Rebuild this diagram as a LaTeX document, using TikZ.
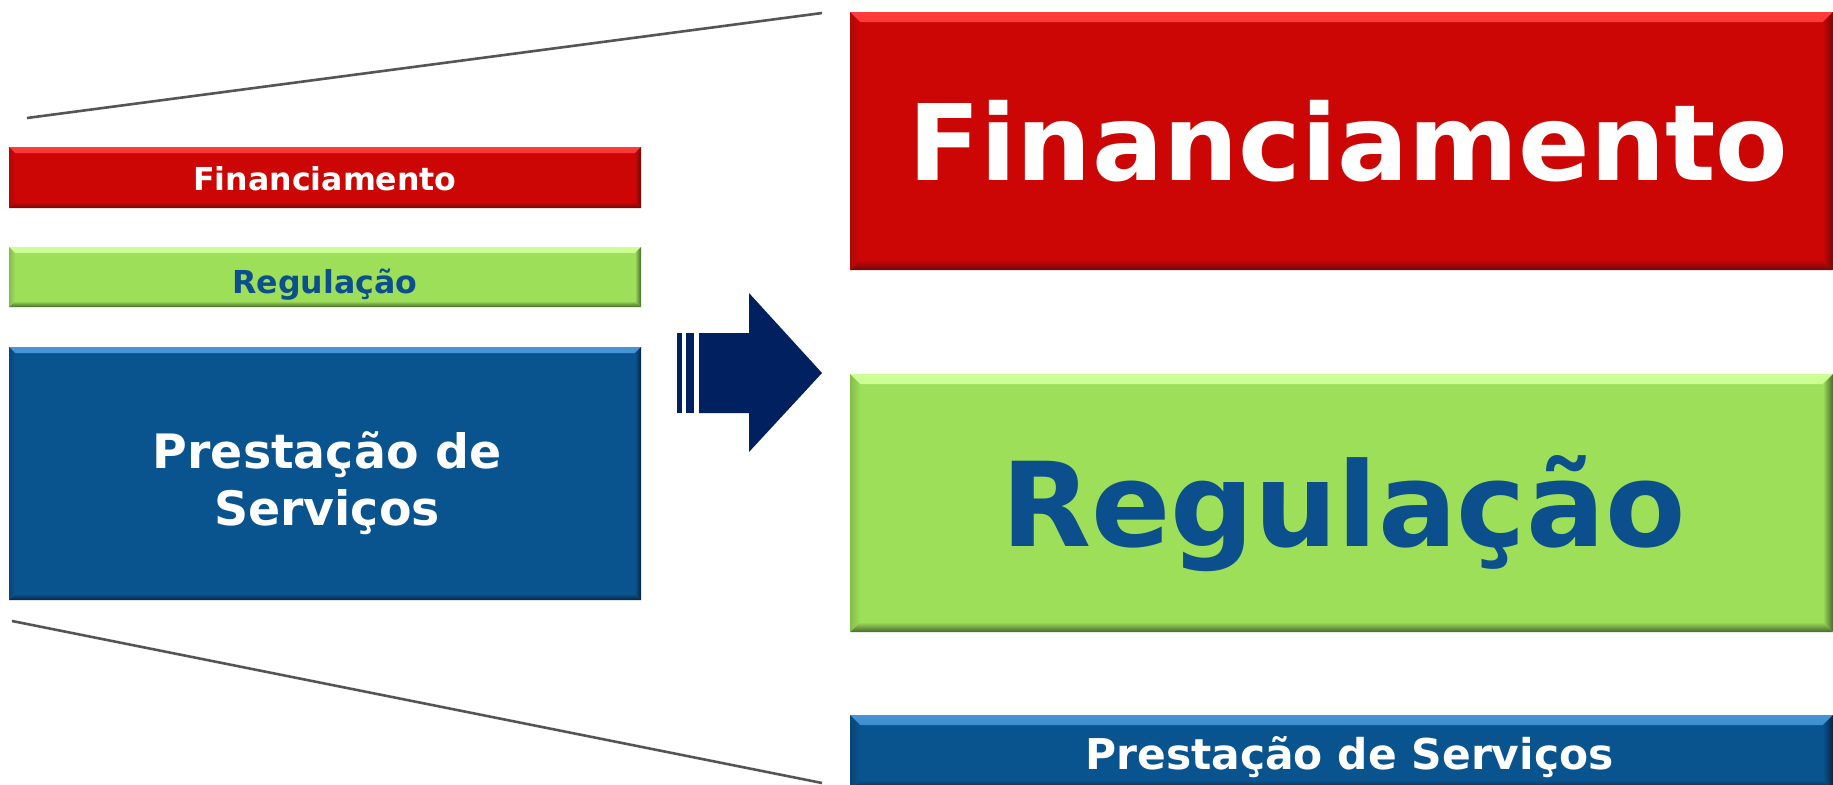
\documentclass[tikz,border=0pt]{standalone}
\usepackage{fontspec}
\setmainfont{DejaVu Sans}
\usetikzlibrary{calc}
\definecolor{redbase}{RGB}{204,6,5}
\definecolor{redlight}{RGB}{255,60,60}
\definecolor{reddark}{RGB}{110,10,10}
\definecolor{grnbase}{RGB}{158,223,90}
\definecolor{grnlight}{RGB}{205,255,150}
\definecolor{grndark}{RGB}{70,105,45}
\definecolor{blubase}{RGB}{9,84,143}
\definecolor{blulight}{RGB}{70,150,215}
\definecolor{bludark}{RGB}{10,35,60}
\definecolor{txtblue}{RGB}{11,79,140}
\definecolor{navy}{RGB}{0,32,96}
\definecolor{linegray}{RGB}{85,85,85}
\newlength{\bw}
\tikzset{
  bevelbox/.style n args={4}{
    fill=#1, inner sep=0pt,
    path picture={
      \setlength{\bw}{#4}
      \def\pb{path picture bounding box}
      \shade[top color=#2, bottom color=#1]
        (\pb.north west) -- (\pb.north east) -- ([xshift=-\bw,yshift=-\bw]\pb.north east) -- ([xshift=\bw,yshift=-\bw]\pb.north west) -- cycle;
      \shade[top color=#1, bottom color=#3]
        (\pb.south west) -- (\pb.south east) -- ([xshift=-\bw,yshift=\bw]\pb.south east) -- ([xshift=\bw,yshift=\bw]\pb.south west) -- cycle;
      \shade[left color=#1, right color=#3]
        (\pb.north east) -- (\pb.south east) -- ([xshift=-\bw,yshift=\bw]\pb.south east) -- ([xshift=-\bw,yshift=-\bw]\pb.north east) -- cycle;
      \shade[left color=#1!70!#3, right color=#1]
        (\pb.north west) -- (\pb.south west) -- ([xshift=\bw,yshift=\bw]\pb.south west) -- ([xshift=\bw,yshift=-\bw]\pb.north west) -- cycle;
    }},
  boxtext/.style={inner sep=0pt, align=center},
  zoomline/.style={draw=linegray, line width=1.3pt},
  arrowfill/.style={fill=navy, draw=none}
}
\begin{document}
\begin{tikzpicture}[x=0.5pt,y=-0.5pt]
\useasboundingbox (0,0) rectangle (1833,784);
\clip (0,0) rectangle (1833,784);
\fill[white] (0,0) rectangle (1833,784);
% small boxes
\node[bevelbox={redbase}{redlight}{reddark}{3pt}, minimum width=316pt, minimum height=30.5pt] (sf) at (325,177.5) {};
\node[boxtext, text=white, font=\bfseries\fontsize{15.8}{18}\selectfont] (sft) at ([yshift=-0.5pt]sf.center) {Financiamento};
\node[bevelbox={grnbase}{grnlight}{grndark}{3pt}, minimum width=316pt, minimum height=30pt] (sr) at (325,277) {};
\node[boxtext, text=txtblue, font=\bfseries\fontsize{15.8}{18}\selectfont] (srt) at ([yshift=-4pt]sr.center) {Regulação};
\node[bevelbox={blubase}{blulight}{bludark}{3pt}, minimum width=316pt, minimum height=126.5pt] (sp) at (325,473.5) {};
\node[boxtext, text=white, font=\bfseries\fontsize{23.7}{28.5}\selectfont] (spt) at ([xshift=1pt,yshift=-4.7pt]sp.center) {Prestação de\\Serviços};
% big boxes
\node[bevelbox={redbase}{redlight}{reddark}{5pt}, minimum width=491.5pt, minimum height=129pt] (bf) at (1341.5,141) {};
\node[boxtext, text=white, font=\bfseries\fontsize{52.8}{60}\selectfont] (bft) at ([xshift=3.5pt]bf.center) {Financiamento};
\node[bevelbox={grnbase}{grnlight}{grndark}{5pt}, minimum width=491.5pt, minimum height=129pt] (bg) at (1341.5,503) {};
\node[boxtext, text=txtblue, font=\bfseries\fontsize{58.5}{64}\selectfont] (bgt) at ([xshift=1pt,yshift=-5.3pt]bg.center) {Regulação};
\node[bevelbox={blubase}{blulight}{bludark}{5pt}, minimum width=491.5pt, minimum height=37.5pt] (bp) at (1341.5,752.5) {};
\node[boxtext, text=white, font=\bfseries\fontsize{21.2}{25}\selectfont] (bpt) at ([xshift=4pt,yshift=-2.5pt]bp.center) {Prestação de Serviços};
% zoom lines
\coordinate (t1) at (27,118);
\coordinate (t2) at (822,13);
\coordinate (b1) at (12,621);
\coordinate (b2) at (822,783);
\draw[zoomline] (t1) -- (t2);
\draw[zoomline] (b1) -- (b2);
% arrow
\fill[arrowfill] (677,333) rectangle (682,413);
\fill[arrowfill] (686,333) rectangle (694,413);
\fill[arrowfill] (699,333) -- (749,333) -- (749,293) -- (822,373) -- (749,452) -- (749,413) -- (699,413) -- cycle;
\end{tikzpicture}
\end{document}
